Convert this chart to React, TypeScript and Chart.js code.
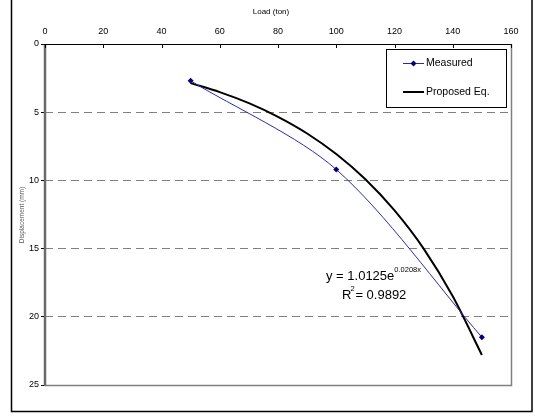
import React, { useEffect, useRef } from "react";
import { Chart, registerables } from "chart.js";

Chart.register(...registerables);

const measuredLoad = [50, 100, 150];
const measuredDisp = [2.7, 9.2, 21.5];
const proposedLoad = [50, 60, 70, 80, 90, 100, 110, 120, 130, 140, 150];
const proposedDisp = [2.87, 3.53, 4.34, 5.34, 6.56, 8.07, 9.92, 12.2, 15.0, 18.5, 22.8];
const xTitle = "Load (ton)";
const yTitle = "Displacement (mm)";
const seriesNames = ["Measured", "Proposed Eq."];
const eqMain = "y = 1.0125e";
const eqExp = "0.0208x";
const r2Value = "= 0.9892";

const FONT = "'Liberation Sans', Arial, sans-serif";
const NAVY = "#000080";
const BLUE = "#2a2aa6";

const decorPlugin = {
  id: "decor",
  afterDraw(chart: any) {
    const ctx = chart.ctx as CanvasRenderingContext2D;
    const a = chart.chartArea;
    const xs = chart.scales.x;
    ctx.save();
    ctx.setLineDash([]);
    // right & bottom plot edges
    ctx.strokeStyle = "#808080";
    ctx.lineWidth = 1.5;
    ctx.beginPath();
    ctx.moveTo(a.right + 0.5, a.top);
    ctx.lineTo(a.right + 0.5, a.bottom + 0.5);
    ctx.lineTo(a.left, a.bottom + 0.5);
    ctx.stroke();
    // left axis line
    ctx.strokeStyle = "#6a6a6a";
    ctx.lineWidth = 2.5;
    ctx.beginPath();
    ctx.moveTo(a.left, a.top);
    ctx.lineTo(a.left, a.bottom + 1);
    ctx.stroke();
    // top axis line with inward ticks
    ctx.strokeStyle = "#000";
    ctx.lineWidth = 1;
    ctx.beginPath();
    ctx.moveTo(a.left - 1, a.top + 0.5);
    ctx.lineTo(a.right + 1, a.top + 0.5);
    ctx.stroke();
    xs.ticks.forEach((t: any) => {
      const px = Math.round(xs.getPixelForValue(t.value)) + 0.5;
      ctx.beginPath();
      ctx.moveTo(px, a.top);
      ctx.lineTo(px, a.top + 4);
      ctx.stroke();
    });
    // titles
    ctx.fillStyle = "#000";
    ctx.font = `8px ${FONT}`;
    ctx.textAlign = "center";
    ctx.textBaseline = "middle";
    ctx.fillText(xTitle, 271, 12);
    ctx.save();
    ctx.translate(22, 215);
    ctx.rotate(-Math.PI / 2);
    ctx.fillStyle = "#555";
    ctx.font = `6.5px ${FONT}`;
    ctx.fillText(yTitle, 0, 0);
    ctx.restore();
    // legend box
    ctx.fillStyle = "#fff";
    ctx.fillRect(386.5, 49.5, 120, 58);
    ctx.strokeStyle = "#000";
    ctx.lineWidth = 1;
    ctx.strokeRect(386.5, 49.5, 120, 58);
    ctx.strokeStyle = BLUE;
    ctx.lineWidth = 1;
    ctx.beginPath();
    ctx.moveTo(403, 63.5);
    ctx.lineTo(424, 63.5);
    ctx.stroke();
    ctx.fillStyle = NAVY;
    ctx.beginPath();
    ctx.moveTo(413.5, 60.5);
    ctx.lineTo(416.5, 63.5);
    ctx.lineTo(413.5, 66.5);
    ctx.lineTo(410.5, 63.5);
    ctx.closePath();
    ctx.fill();
    ctx.strokeStyle = "#000";
    ctx.lineWidth = 2;
    ctx.beginPath();
    ctx.moveTo(403, 92);
    ctx.lineTo(424, 92);
    ctx.stroke();
    ctx.fillStyle = "#000";
    ctx.font = `10.5px ${FONT}`;
    ctx.textAlign = "left";
    ctx.textBaseline = "middle";
    ctx.fillText(seriesNames[0], 426, 63);
    ctx.fillText(seriesNames[1], 426, 92);
    // equation
    ctx.font = `13px ${FONT}`;
    ctx.textBaseline = "alphabetic";
    ctx.fillText(eqMain, 326, 280);
    const w = ctx.measureText(eqMain).width;
    ctx.font = `7.5px ${FONT}`;
    ctx.fillText(eqExp, 326 + w, 272);
    ctx.font = `13px ${FONT}`;
    ctx.fillText("R", 342, 299);
    const rw = ctx.measureText("R").width;
    ctx.font = `7.5px ${FONT}`;
    ctx.fillText("2", 342 + rw - 1, 291);
    ctx.font = `13px ${FONT}`;
    ctx.fillText(r2Value, 342 + rw + 4, 299);
    // outer frame
    ctx.strokeStyle = "#000";
    ctx.lineWidth = 1.5;
    ctx.strokeRect(11.5, -2, 520.5, 413.5);
    ctx.restore();
  },
};

export default function App() {
  const ref = useRef<HTMLCanvasElement>(null);
  useEffect(() => {
    if (!ref.current) return;
    const chart = new Chart(ref.current, {
      type: "scatter",
      data: {
        datasets: [
          {
            label: seriesNames[0],
            data: measuredLoad.map((x, i) => ({ x, y: measuredDisp[i] })),
            showLine: true,
            borderColor: BLUE,
            borderWidth: 1,
            tension: 0.3,
            pointStyle: "rectRot",
            pointRadius: 3,
            pointBackgroundColor: NAVY,
            pointBorderColor: NAVY,
            pointBorderWidth: 0,
          },
          {
            label: seriesNames[1],
            data: proposedLoad.map((x, i) => ({ x, y: proposedDisp[i] })),
            showLine: true,
            borderColor: "#000",
            borderWidth: 2,
            cubicInterpolationMode: "monotone",
            pointRadius: 0,
          },
        ],
      },
      options: {
        animation: false,
        responsive: false,
        maintainAspectRatio: false,
        layout: { padding: { left: 0, top: 0, right: 24, bottom: 34 } },
        plugins: { legend: { display: false }, tooltip: { enabled: false } },
        scales: {
          x: {
            type: "linear",
            position: "top",
            min: 0,
            max: 160,
            afterFit: (s: any) => {
              s.height = 44;
            },
            ticks: {
              stepSize: 20,
              padding: 7,
              color: "#000",
              font: { family: FONT, size: 9 },
            },
            grid: { display: false, drawTicks: false },
            border: { display: false },
          },
          y: {
            type: "linear",
            reverse: true,
            min: 0,
            max: 25,
            afterFit: (s: any) => {
              s.width = 45;
            },
            ticks: {
              stepSize: 5,
              padding: 2,
              color: "#000",
              font: { family: FONT, size: 9 },
            },
            grid: {
              color: (c: any) =>
                c.tick && (c.tick.value === 0 || c.tick.value === 25) ? "rgba(0,0,0,0)" : "#808080",
              tickColor: "#000",
              tickLength: 4,
              tickBorderDash: [],
              lineWidth: 1,
            } as any,
            border: { display: false, dash: [8, 5] } as any,
          },
        },
      } as any,
      plugins: [decorPlugin],
    });
    return () => chart.destroy();
  }, []);
  return (
    <div style={{ position: "fixed", left: 0, top: 0, width: 535, height: 419, background: "#fff" }}>
      <canvas ref={ref} width={535} height={419} style={{ display: "block" }} />
    </div>
  );
}
